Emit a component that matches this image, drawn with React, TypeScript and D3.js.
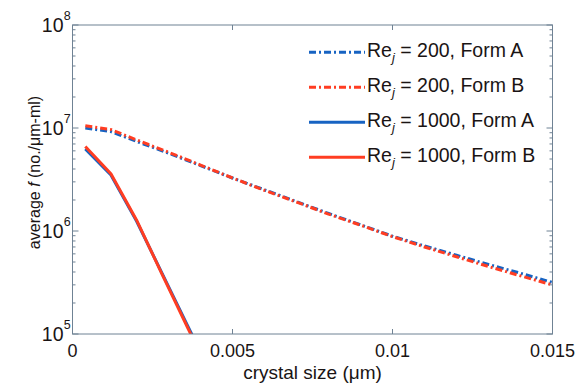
import React from "react";
import * as d3 from "d3";

// crystal size (µm)
const sizeRe200 = [0.0004, 0.0012, 0.002, 0.003, 0.004, 0.005, 0.006, 0.007, 0.008, 0.009, 0.01, 0.011, 0.012, 0.013, 0.014, 0.015];
const re200FormA = [1.0e7, 9.23e6, 7.41e6, 5.69e6, 4.32e6, 3.27e6, 2.51e6, 1.93e6, 1.48e6, 1.15e6, 8.9e5, 7.16e5, 5.82e5, 4.73e5, 3.89e5, 3.16e5];
const re200FormB = [1.05e7, 9.66e6, 7.67e6, 5.82e6, 4.37e6, 3.27e6, 2.48e6, 1.91e6, 1.46e6, 1.14e6, 8.81e5, 7.0e5, 5.62e5, 4.52e5, 3.67e5, 2.99e5];

const sizeRe1000 = [0.0004, 0.0012, 0.002, 0.0028, 0.0036, 0.0044];
const re1000FormA = [6.25e6, 3.5e6, 1.25e6, 3.88e5, 1.2e5, 3.7e4];
const re1000FormB = [6.6e6, 3.6e6, 1.28e6, 3.8e5, 1.15e5, 3.5e4];

const xTicks = [0, 0.005, 0.01, 0.015];
const xTickLabels = ["0", "0.005", "0.01", "0.015"];
const yTickExponents = [5, 6, 7, 8];

const legendLabels = [
  { re: "200", form: "A" },
  { re: "200", form: "B" },
  { re: "1000", form: "A" },
  { re: "1000", form: "B" },
];

const BLUE = "#1763c2";
const RED = "#ff3d22";
const AXIS = "#6f8294";
const TEXT = "#1a1414";
const FONT = "'Liberation Sans', Arial, Helvetica, sans-serif";

export default function App() {
  const W = 576, H = 385;
  const left = 72.5, right = 552.5, top = 25, bottom = 334;
  const x = d3.scaleLinear().domain([0, 0.015]).range([left, right]);
  const y = d3.scaleLog().domain([1e5, 1e8]).range([bottom, top]);

  const line = d3
    .line<[number, number]>()
    .x((d) => x(d[0]))
    .y((d) => y(d[1]));

  const zip = (xs: number[], ys: number[]) => xs.map((v, i) => [v, ys[i]] as [number, number]);

  const series = [
    { data: zip(sizeRe200, re200FormA), color: BLUE, dash: "7,3,2,3", width: 3 },
    { data: zip(sizeRe200, re200FormB), color: RED, dash: "7,3,2,3", width: 3 },
    { data: zip(sizeRe1000, re1000FormA), color: BLUE, dash: null, width: 3 },
    { data: zip(sizeRe1000, re1000FormB), color: RED, dash: null, width: 3 },
  ];

  const minor: number[] = [];
  for (let e = 5; e < 8; e++) for (let m = 2; m <= 9; m++) minor.push(m * Math.pow(10, e));

  return (
    <svg
      width={W}
      height={H}
      style={{ position: "absolute", left: 0, top: 0, background: "#fff" }}
      fontFamily={FONT}
    >
      <defs>
        <clipPath id="plot">
          <rect x={left} y={top} width={right - left} height={bottom - top} />
        </clipPath>
      </defs>
      <rect x={0} y={0} width={W} height={H} fill="#fff" />

      {/* lines */}
      <g clipPath="url(#plot)">
        {series.map((s, i) => (
          <path
            key={i}
            d={line(s.data) || ""}
            fill="none"
            stroke={s.color}
            strokeWidth={s.width}
            strokeDasharray={s.dash || undefined}
            strokeLinejoin="round"
          />
        ))}
      </g>

      {/* axes box */}
      <rect x={left} y={top} width={right - left} height={bottom - top} fill="none" stroke={AXIS} strokeWidth={1} />

      {/* x ticks */}
      {xTicks.map((t, i) => (
        <g key={"xt" + i}>
          <line x1={x(t)} x2={x(t)} y1={bottom} y2={bottom - 5} stroke={AXIS} />
          <line x1={x(t)} x2={x(t)} y1={top} y2={top + 5} stroke={AXIS} />
          <text x={x(t)} y={356.5} textAnchor="middle" fontSize={18} fill={TEXT}>
            {xTickLabels[i]}
          </text>
        </g>
      ))}

      {/* y ticks */}
      {yTickExponents.map((e) => {
        const v = Math.pow(10, e);
        const yy = y(v);
        return (
          <g key={"yt" + e}>
            <line x1={left} x2={left + 6} y1={yy} y2={yy} stroke={AXIS} />
            <line x1={right} x2={right - 6} y1={yy} y2={yy} stroke={AXIS} />
            <text x={63.5} y={yy + 7} textAnchor="end" fontSize={19.5} fill={TEXT}>
              10
            </text>
            <text x={63.8} y={yy - 5} textAnchor="start" fontSize={12.5} fill={TEXT}>
              {e}
            </text>
          </g>
        );
      })}
      {minor.map((v, i) => (
        <g key={"ym" + i}>
          <line x1={left} x2={left + 3} y1={y(v)} y2={y(v)} stroke={AXIS} />
          <line x1={right} x2={right - 3} y1={y(v)} y2={y(v)} stroke={AXIS} />
        </g>
      ))}

      {/* axis labels */}
      <text x={(left + right) / 2} y={379} textAnchor="middle" fontSize={19} fill={TEXT}>
        crystal size (μm)
      </text>
      <text
        transform={`translate(40, ${(top + bottom) / 2 - 7}) rotate(-90)`}
        textAnchor="middle"
        fontSize={16}
        fill={TEXT}
      >
        average <tspan fontStyle="italic">f</tspan> (no./μm-ml)
      </text>

      {/* legend */}
      {legendLabels.map((l, i) => {
        const yy = 52.3 + i * 35;
        const s = series[i];
        return (
          <g key={"lg" + i}>
            <line
              x1={309}
              x2={365}
              y1={yy}
              y2={yy}
              stroke={s.color}
              strokeWidth={3}
              strokeDasharray={s.dash || undefined}
            />
            <text x={367} y={yy + 4.5} fontSize={19.5} fill={TEXT} style={{ whiteSpace: "pre" }}>
              Re
              <tspan fontSize={13} fontStyle="italic" dy={5}>j</tspan>
              <tspan dy={-5}>{` = ${l.re}, Form ${l.form}`}</tspan>
            </text>
          </g>
        );
      })}
    </svg>
  );
}
